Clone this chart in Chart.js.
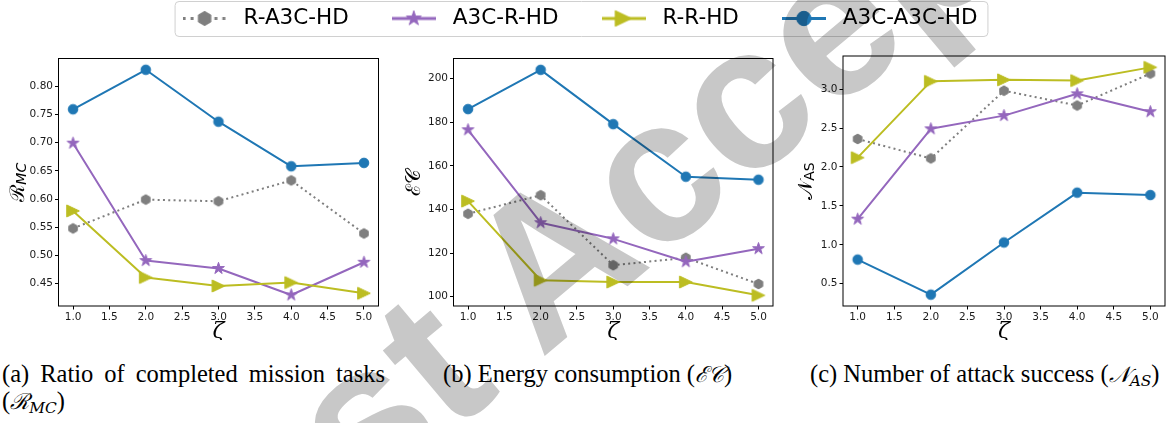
<!DOCTYPE html>
<html>
<head>
<meta charset="utf-8">
<script src="https://cdn.jsdelivr.net/npm/chart.js@4"></script>
<style>
  body { margin: 0; background: #fff; }
  #fig { position: relative; width: 1172px; height: 423px; overflow: hidden; background: #fff; }
  canvas { position: absolute; }
  .cap { position: absolute; top: 360px; font-family: "Liberation Serif"; font-size: 24.5px; line-height: 27px; color: #000; white-space: nowrap; }
  .cap sub { font-size: 0.7em; vertical-align: -0.25em; line-height: 0; }
  .cap i { font-family: "DejaVu Serif"; font-style: italic; font-size: 0.9em; }
  #capA { white-space: normal; text-align: justify; width: 383px; left: 2px; }
  #capB { left: 443px; }
  #capC { left: 810px; }
  #wm { position: absolute; left: 0; top: 0; mix-blend-mode: multiply; pointer-events: none; }
</style>
</head>
<body>
<div id="fig">
  <canvas id="legendChart" width="1172" height="40" style="left:0;top:0"></canvas>
  <canvas id="chartRMC" width="390" height="300" style="left:0;top:40px"></canvas>
  <canvas id="chartEC" width="390" height="300" style="left:390px;top:40px"></canvas>
  <canvas id="chartNAS" width="392" height="300" style="left:780px;top:40px"></canvas>
  <div class="cap" id="capA">(a) Ratio of completed mission tasks (<i>ℛ<sub>MC</sub></i>)</div>
  <div class="cap" id="capB">(b) Energy consumption (<i>ℰ𝒞</i>)</div>
  <div class="cap" id="capC">(c) Number of attack success (<i>𝒩<sub>AS</sub></i>)</div>
  <svg id="wm" width="1172" height="423">
    <text transform="translate(180 662) rotate(-40)" font-family="Liberation Sans" font-weight="bold" font-size="205" fill="#c8c8c8">Just Accepted</text>
  </svg>
</div>
<script>
const zeta = [1, 2, 3, 4, 5]
const seriesNames = ["R-A3C-HD", "A3C-R-HD", "R-R-HD", "A3C-A3C-HD"]

// (a) ratio of completed mission tasks
const rmcRA3C = [0.548, 0.599, 0.596, 0.633, 0.539]
const rmcA3CR = [0.699, 0.491, 0.477, 0.430, 0.488]
const rmcRR = [0.579, 0.461, 0.446, 0.452, 0.433]
const rmcA3CA3C = [0.759, 0.829, 0.737, 0.658, 0.664]

// (b) energy consumption
const ecRA3C = [138.0, 146.5, 114.4, 117.8, 105.8]
const ecA3CR = [176.5, 133.9, 126.5, 116.0, 122.0]
const ecRR = [143.8, 107.5, 106.7, 106.7, 100.6]
const ecA3CA3C = [186.0, 204.0, 179.1, 155.0, 153.6]

// (c) number of attack success
const nasRA3C = [2.36, 2.11, 2.98, 2.79, 3.20]
const nasA3CR = [1.33, 2.49, 2.66, 2.94, 2.71]
const nasRR = [2.12, 3.10, 3.12, 3.11, 3.28]
const nasA3CA3C = [0.81, 0.36, 1.03, 1.67, 1.64]

const xTicks = [1.0, 1.5, 2.0, 2.5, 3.0, 3.5, 4.0, 4.5, 5.0]
const rmcTicks = [0.45, 0.50, 0.55, 0.60, 0.65, 0.70, 0.75, 0.80]
const ecTicks = [100, 120, 140, 160, 180, 200]
const nasTicks = [0.5, 1.0, 1.5, 2.0, 2.5, 3.0]

const styles = [
    {color: "#7f7f7f", dash: [2, 3.3], marker: "hexagon"},
    {color: "#9467bd", dash: [], marker: "star"},
    {color: "#bcbd22", dash: [], marker: "triangle"},
    {color: "#1f77b4", dash: [], marker: "circle"}
]

function shapePath(ctx, kind, r) {
    ctx.beginPath()
    if (kind === "circle") {
        ctx.arc(0, 0, r, 0, Math.PI * 2)
    } else if (kind === "hexagon") {
        for (let k = 0; k < 6; k++) {
            const a = -Math.PI / 2 + k * Math.PI / 3
            ctx.lineTo(r * Math.cos(a), r * Math.sin(a))
        }
    } else if (kind === "star") {
        for (let k = 0; k < 10; k++) {
            const a = -Math.PI / 2 + k * Math.PI / 5
            const rr = k % 2 ? r * 0.382 : r
            ctx.lineTo(rr * Math.cos(a), rr * Math.sin(a))
        }
    } else if (kind === "triangle") {
        ctx.moveTo(r * 1.05, 0)
        ctx.lineTo(-r * 1.05, r)
        ctx.lineTo(-r * 1.05, -r)
    }
    ctx.closePath()
}

const markerSize = {circle: 4.8, hexagon: 4.9, star: 6.2, triangle: 6}
const legendScale = {circle: 1.5, hexagon: 1.45, star: 1.25, triangle: 1.3}

function makeMarker(style, scale, handle) {
    const c = document.createElement("canvas")
    const r = markerSize[style.marker] * scale
    c.width = handle ? handle : Math.ceil(r * 2 + 6)
    c.height = Math.ceil(r * 2 + 6)
    const ctx = c.getContext("2d")
    if (handle) {
        ctx.strokeStyle = style.color
        ctx.lineWidth = 3
        ctx.setLineDash(style.dash.map(d => d * 1.5))
        ctx.beginPath()
        ctx.moveTo(0, c.height / 2)
        ctx.lineTo(handle, c.height / 2)
        ctx.stroke()
        ctx.setLineDash([])
    }
    ctx.translate(c.width / 2, c.height / 2)
    shapePath(ctx, style.marker, r)
    ctx.fillStyle = style.color
    ctx.fill()
    ctx.lineWidth = 1
    ctx.strokeStyle = style.color
    ctx.stroke()
    return c
}

const plotMarkers = styles.map(s => makeMarker(s, 1))
const legendMarkers = styles.map(s => makeMarker(s, legendScale[s.marker], 44))

function datasetsFor(values) {
    return styles.map((s, i) => ({
        label: seriesNames[i],
        data: zeta.map((x, j) => ({x: x, y: values[i][j]})),
        borderColor: s.color,
        backgroundColor: s.color,
        borderWidth: 2,
        borderDash: s.dash,
        borderJoinStyle: "round",
        pointStyle: plotMarkers[i],
        pointRadius: 5,
        order: 4 - i,
        tension: 0
    }))
}

const tickFont = {family: "DejaVu Sans", size: 10.5}

// frame + axis titles (the y titles need subscripts)
const decor = {
    id: "decor",
    afterDraw(chart, args, opts) {
        const ctx = chart.ctx
        const a = chart.chartArea
        ctx.save()
        ctx.strokeStyle = opts.frameColor
        ctx.lineWidth = 1
        ctx.strokeRect(a.left, a.top, a.right - a.left, a.bottom - a.top)
        ctx.fillStyle = "#000"
        ctx.font = "italic 22px 'DejaVu Serif'"
        ctx.textAlign = "center"
        ctx.textBaseline = "middle"
        ctx.fillText("ζ", (a.left + a.right) / 2, a.bottom + 26)
        ctx.translate(opts.titleX, (a.top + a.bottom) / 2)
        ctx.rotate(-Math.PI / 2)
        ctx.textAlign = "left"
        let total = 0
        opts.title.forEach(p => { ctx.font = p.font; total += ctx.measureText(p.t).width })
        let x = -total / 2
        opts.title.forEach(p => {
            ctx.font = p.font
            ctx.fillText(p.t, x, p.dy || 0)
            x += ctx.measureText(p.t).width
        })
        ctx.restore()
    }
}

function makeChart(id, values, yMin, yMax, yTicks, yFmt, cfg) {
    return new Chart(document.getElementById(id), {
        type: "line",
        data: {datasets: datasetsFor(values)},
        plugins: [decor],
        options: {
            responsive: false,
            animation: false,
            events: [],
            layout: {padding: {top: cfg.top, right: cfg.right, bottom: 0, left: 0}},
            plugins: {
                legend: {display: false},
                tooltip: {enabled: false},
                decor: {frameColor: "#000", titleX: cfg.titleX, title: cfg.title}
            },
            scales: {
                x: {
                    type: "linear", min: 0.8, max: 5.2,
                    afterBuildTicks: s => { s.ticks = xTicks.map(v => ({value: v})) },
                    afterFit: s => { s.height = 34 },
                    grid: {drawOnChartArea: false, drawTicks: true, tickLength: 3.5, color: "#000", lineWidth: 1},
                    border: {display: false},
                    ticks: {font: tickFont, color: "#1a1a1a", padding: 1, maxRotation: 0, autoSkip: false,
                        callback: v => v.toFixed(1)}
                },
                y: {
                    type: "linear", min: yMin, max: yMax,
                    afterBuildTicks: s => { s.ticks = yTicks.map(v => ({value: v})) },
                    afterFit: s => { s.width = cfg.yWidth },
                    grid: {drawOnChartArea: false, drawTicks: true, tickLength: 3.5, color: "#000", lineWidth: 1},
                    border: {display: false},
                    ticks: {font: tickFont, color: "#1a1a1a", padding: 2, autoSkip: false, callback: yFmt}
                }
            }
        }
    })
}

makeChart("chartRMC", [rmcRA3C, rmcA3CR, rmcRR, rmcA3CA3C], 0.4105, 0.849, rmcTicks, v => v.toFixed(2), {
    top: 18.5, right: 11.5, yWidth: 58.5, titleX: 18.5,
    title: [{t: "ℛ", font: "20px 'DejaVu Serif'"}, {t: "MC", font: "italic 14px 'DejaVu Sans'", dy: 4}]
})
makeChart("chartEC", [ecRA3C, ecA3CR, ecRR, ecA3CA3C], 95.7, 209.2, ecTicks, v => v.toFixed(0), {
    top: 18.5, right: 3.5, yWidth: 63.5, titleX: 25,
    title: [{t: "ℰ𝒞", font: "20px 'DejaVu Serif'"}]
})
makeChart("chartNAS", [nasRA3C, nasA3CR, nasRR, nasA3CA3C], 0.214, 3.426, nasTicks, v => v.toFixed(1), {
    top: 16, right: 4, yWidth: 63, titleX: 26.5,
    title: [{t: "𝒩", font: "20px 'DejaVu Serif'"}, {t: "AS", font: "14px 'DejaVu Sans'", dy: 4}]
})

// shared legend across the top
const figLegend = {
    id: "figLegend",
    afterDraw(chart) {
        const ctx = chart.ctx
        ctx.save()
        ctx.font = "21.5px 'DejaVu Sans'"
        const handle = 44, gap = 17, colGap = 43
        const widths = chart.data.datasets.map(d => handle + gap + ctx.measureText(d.label).width)
        const total = widths.reduce((s, w) => s + w, 0) + colGap * (widths.length - 1)
        let x = 580 - total / 2
        const cy = 18.5
        ctx.beginPath()
        ctx.roundRect(x - 7.5, 1.5, total + 18, 35, 4)
        ctx.fillStyle = "rgba(255,255,255,0.8)"
        ctx.fill()
        ctx.strokeStyle = "#d0d0d0"
        ctx.lineWidth = 1
        ctx.stroke()
        ctx.textBaseline = "middle"
        ctx.fillStyle = "#000"
        chart.data.datasets.forEach((d, i) => {
            const img = legendMarkers[i]
            ctx.drawImage(img, x, cy - img.height / 2)
            ctx.fillText(d.label, x + handle + gap, cy)
            x += widths[i] + colGap
        })
        ctx.restore()
    }
}

new Chart(document.getElementById("legendChart"), {
    type: "line",
    data: {datasets: seriesNames.map(n => ({label: n, data: []}))},
    plugins: [figLegend],
    options: {
        responsive: false, animation: false, events: [],
        plugins: {legend: {display: false}, tooltip: {enabled: false}},
        scales: {x: {display: false}, y: {display: false}}
    }
})
</script>
</body>
</html>
